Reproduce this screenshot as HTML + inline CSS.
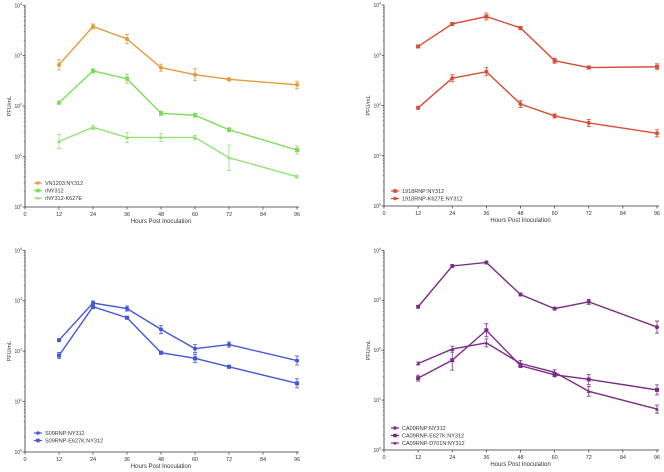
<!DOCTYPE html>
<html><head><meta charset="utf-8"><style>
html,body{margin:0;padding:0;background:#fff;}
svg{display:block;font-family:"Liberation Sans",sans-serif;}
</style></head><body>
<svg id="c" width="664" height="472" viewBox="0 0 664 472"></svg>
<script>
const hours=[12,24,36,48,60,72,96];
const xTicks=[0,12,24,36,48,60,72,84,96];
const yTickExp=[0,1,2,3,4];
const vn1203=[660,3800,2150,580,420,340,265];
const vn1203Err=[0.1,0.05,0.09,0.07,0.12,0.03,0.07];
const rny312=[117,500,350,72,66,34,13.5];
const rny312Err=[0.03,0.04,0.09,0.04,0.04,0.04,0.08];
const rny312K627E=[20,38,24,24,24,9.5,4];
const rny312K627EErr=[0.14,0.04,0.1,0.08,0.04,0.25,0.03];
const r1918=[1500,4200,5900,3500,780,570,590];
const r1918Err=[0.03,0.03,0.07,0.03,0.05,0.03,0.06];
const r1918K627E=[90,350,470,107,62,45,28];
const r1918K627EErr=[0.03,0.07,0.08,0.07,0.04,0.07,0.07];
const s09=[165,900,700,270,112,135,65];
const s09Err=[0.03,0.04,0.05,0.08,0.08,0.05,0.09];
const s09E627K=[82,760,460,93,72,49,23];
const s09E627KErr=[0.06,0.04,0.03,0.03,0.08,0.03,0.09];
const ca09=[740,4850,5700,1300,680,930,290];
const ca09Err=[0.03,0.03,0.03,0.03,0.03,0.05,0.12];
const ca09E627K=[27.5,63,250,49,32,26,16];
const ca09E627KErr=[0.06,0.2,0.13,0.04,0.04,0.1,0.1];
const ca09D701N=[54,105,140,54,36,15,6.6];
const ca09D701NErr=[0.03,0.06,0.08,0.06,0.05,0.1,0.08];

const NS="http://www.w3.org/2000/svg";
const svg=document.getElementById('c');
function mk(tag,attrs,parent){const e=document.createElementNS(NS,tag);for(const k in attrs)e.setAttribute(k,attrs[k]);(parent||svg).appendChild(e);return e;}

const panels=[
 {name:'panel-vn1203',x0:25,x1:297,yT:5.3,yB:207,legX:38,legY:183,series:[
  {n:'VN1203:NY312',v:vn1203,e:vn1203Err,c:'#e39a3c',m:'circle'},
  {n:'rNY312',v:rny312,e:rny312Err,c:'#7ddc5a',m:'square'},
  {n:'rNY312-K627E',v:rny312K627E,e:rny312K627EErr,c:'#93e277',m:'tri'}]},
 {name:'panel-1918',x0:384,x1:657,yT:5,yB:206,legX:395,legY:191,series:[
  {n:'1918RNP:NY312',v:r1918,e:r1918Err,c:'#d84d36',m:'square'},
  {n:'1918RNP-K627E:NY312',v:r1918K627E,e:r1918K627EErr,c:'#d84d36',m:'circle'}]},
 {name:'panel-s09',x0:25,x1:297,yT:250.3,yB:452,legX:38,legY:433,series:[
  {n:'S09RNP:NY312',v:s09,e:s09Err,c:'#4556dc',m:'circle'},
  {n:'S09RNP-E627K:NY312',v:s09E627K,e:s09E627KErr,c:'#4556dc',m:'square'}]},
 {name:'panel-ca09',x0:384,x1:657,yT:250.3,yB:450,legX:395,legY:428,series:[
  {n:'CA09RNP:NY312',v:ca09,e:ca09Err,c:'#7a2d86',m:'circle'},
  {n:'CA09RNP-E627K:NY312',v:ca09E627K,e:ca09E627KErr,c:'#7a2d86',m:'square'},
  {n:'CA09RNP-D701N:NY312',v:ca09D701N,e:ca09D701NErr,c:'#7a2d86',m:'tri'}]}
];

function marker(g,m,x,y,c,r){
 if(m==='circle')return mk('circle',{cx:x,cy:y,r:r,fill:c},g);
 if(m==='square')return mk('rect',{x:x-r,y:y-r,width:2*r,height:2*r,fill:c},g);
 return mk('polygon',{points:`${x},${y-r} ${x+r},${y+r*0.8} ${x-r},${y+r*0.8}`,fill:c},g);
}

panels.forEach(p=>{
 const g=mk('g',{});
 
 
 const xs=h=>p.x0+(h/96)*(p.x1-p.x0);
 const ys=v=>p.yB-(Math.log10(v)/4)*(p.yB-p.yT);
 const ax=mk('path',{d:`M${p.x0},${p.yT} V${p.yB} H${p.x1+2}`,stroke:'#333',fill:'none','stroke-width':0.8},g);
 
 
 xTicks.forEach(t=>{
  const x=xs(t);
  mk('line',{x1:x,x2:x,y1:p.yB,y2:p.yB+2.5,stroke:'#333','stroke-width':0.7},g);
  const tx=mk('text',{x:x,y:p.yB+9,'font-size':5.5,'text-anchor':'middle',fill:'#333'},g);
  tx.textContent=t;
  
  
 });
 yTickExp.forEach(k=>{
  const y=ys(Math.pow(10,k));
  mk('line',{x1:p.x0-2.5,x2:p.x0,y1:y,y2:y,stroke:'#333','stroke-width':0.7},g);
  for(let j=2;j<10&&k<4;j++){const yy=ys(j*Math.pow(10,k));mk('line',{x1:p.x0-1.3,x2:p.x0,y1:yy,y2:yy,stroke:'#333','stroke-width':0.4},g);}
  const tx=mk('text',{x:p.x0-3,y:y+2,'font-size':5,'text-anchor':'end',fill:'#333'},g);
  tx.textContent='10';
  const sup=mk('tspan',{dy:-2.5,'font-size':3.5},tx);sup.textContent=k;
  
  
 });
 const xt=mk('text',{x:(p.x0+p.x1)/2,y:p.yB+16,'font-size':6,'text-anchor':'middle',fill:'#333'},g);
 xt.textContent='Hours Post Inoculation';
 
 
 const ym=(p.yT+p.yB)/2;
 const yt=mk('text',{x:p.x0-14,y:ym,'font-size':5.5,'text-anchor':'middle',fill:'#333',transform:`rotate(-90 ${p.x0-14} ${ym})`},g);
 yt.textContent='PFU/mL';
 
 
 p.series.forEach((s,si)=>{
  const sg=mk('g',{},g);
  
  
  const pts=hours.map((h,i)=>xs(h)+','+ys(s.v[i])).join(' ');
  mk('polyline',{points:pts,fill:'none',stroke:s.c,'stroke-width':1.4},sg);
  hours.forEach((h,i)=>{
   const x=xs(h),lo=ys(s.v[i]/Math.pow(10,s.e[i])),hi=ys(s.v[i]*Math.pow(10,s.e[i]));
   mk('path',{d:`M${x},${lo}V${hi}M${x-2},${lo}h4M${x-2},${hi}h4`,stroke:s.c,'stroke-width':0.8,fill:'none'},sg);
   const mm=marker(sg,s.m,x,ys(s.v[i]),s.c,2);
   
   
  });
  const ly=p.legY+si*7.5;
  const le=mk('g',{},g);
  
  
  mk('line',{x1:p.legX-4,x2:p.legX+4,y1:ly,y2:ly,stroke:s.c,'stroke-width':1.2},le);
  marker(le,s.m,p.legX,ly,s.c,1.8);
  const lt=mk('text',{x:p.legX+7,y:ly+2,'font-size':5.5,fill:'#333'},le);
  lt.textContent=s.n;
 });
});
</script>
</body></html>
